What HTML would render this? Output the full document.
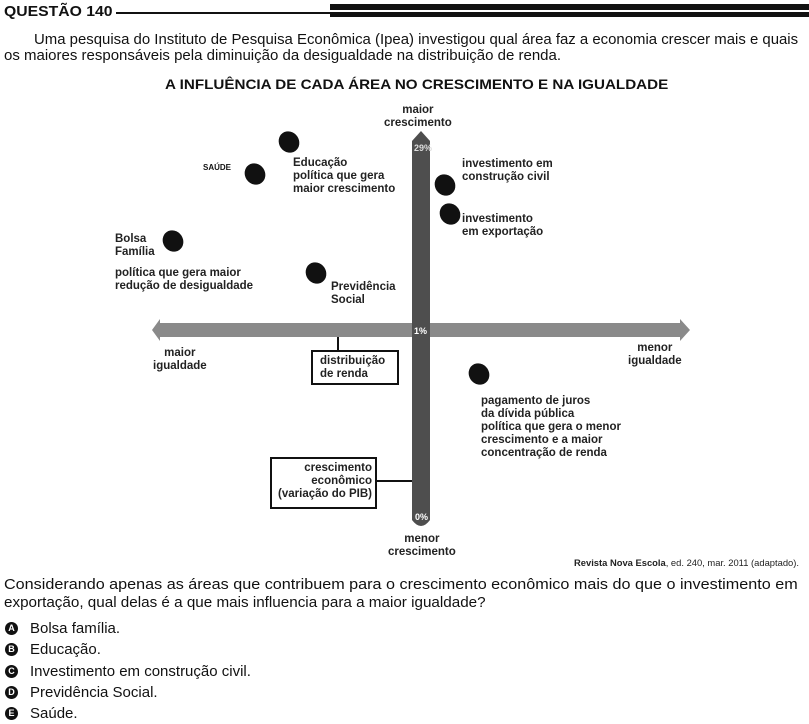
<!DOCTYPE html>
<html><head><meta charset="utf-8"><style>
body{margin:0;width:809px;height:724px;background:#fff;position:relative;overflow:hidden;font-family:"Liberation Sans",sans-serif;color:#111}
.a{position:absolute;white-space:nowrap}
.n{font-size:15px;transform-origin:0 0}
.d{font-size:11.5px;font-weight:bold;line-height:13px;color:#222}
.dot{position:absolute;width:20px;height:22px;background:#111;border-radius:50%;transform:rotate(-35deg)}
.box{position:absolute;border:2px solid #111;background:#fff}
.opt{position:absolute;left:5px;width:13px;height:13px;border-radius:50%;background:#111;color:#fff;font-size:9px;font-weight:bold;text-align:center;line-height:13px}
</style></head><body>
<div class="a" style="left:4px;top:3px;font-size:15px;font-weight:bold;transform:scaleX(1.05);transform-origin:0 0">QUESTÃO 140</div>
<div class="a" style="left:116px;top:12px;width:693px;height:2px;background:#111"></div>
<div class="a" style="left:330px;top:4px;width:479px;height:6px;background:#111"></div>
<div class="a" style="left:330px;top:13px;width:479px;height:4px;background:#111"></div>

<div class="a n" style="left:34px;top:31px;transform:scaleX(0.995)">Uma pesquisa do Instituto de Pesquisa Econômica (Ipea) investigou qual área faz a economia crescer mais e quais</div>
<div class="a n" style="left:4px;top:47px;transform:scaleX(1.0)">os maiores responsáveis pela diminuição da desigualdade na distribuição de renda.</div>
<div class="a" style="left:165px;top:76px;font-size:14px;font-weight:bold;transform:scaleX(1.085);transform-origin:0 0">A INFLUÊNCIA DE CADA ÁREA NO CRESCIMENTO E NA IGUALDADE</div>

<svg class="a" style="left:0;top:0" width="809" height="724">
<polygon points="160,323 680,323 680,319 690,330 680,341 680,337 160,337 160,341 152,330 160,319" fill="#8a8a8a"/>
<path d="M412,141 L421,131 L430,141 L430,520 Q421,532 412,520 Z" fill="#4e4e4e"/>
<line x1="338" y1="337" x2="338" y2="351" stroke="#111" stroke-width="2"/>
<line x1="375" y1="481" x2="412" y2="481" stroke="#111" stroke-width="2"/>
<text x="414" y="151" font-size="9" font-weight="bold" fill="#ddd" font-family="Liberation Sans">29%</text>
<text x="414" y="334" font-size="9" font-weight="bold" fill="#fff" font-family="Liberation Sans">1%</text>
<text x="415" y="520" font-size="9" font-weight="bold" fill="#fff" font-family="Liberation Sans">0%</text>
</svg>

<div class="a d" style="left:384px;top:104px;text-align:center">maior<br>crescimento</div>
<div class="a d" style="left:388px;top:533px;text-align:center">menor<br>crescimento</div>
<div class="a d" style="left:153px;top:347px;text-align:center">maior<br>igualdade</div>
<div class="a d" style="left:628px;top:342px;text-align:center">menor<br>igualdade</div>

<div class="dot" style="left:279px;top:131px"></div>
<div class="dot" style="left:245px;top:163px"></div>
<div class="dot" style="left:163px;top:230px"></div>
<div class="dot" style="left:306px;top:262px"></div>
<div class="dot" style="left:435px;top:174px"></div>
<div class="dot" style="left:440px;top:203px"></div>
<div class="dot" style="left:469px;top:363px"></div>

<div class="a" style="left:203px;top:163px;font-size:8px;font-weight:bold">SAÚDE</div>
<div class="a d" style="left:293px;top:157px">Educação<br>política que gera<br>maior crescimento</div>
<div class="a d" style="left:462px;top:158px">investimento em<br>construção civil</div>
<div class="a d" style="left:462px;top:213px">investimento<br>em exportação</div>
<div class="a d" style="left:115px;top:233px">Bolsa<br>Família</div>
<div class="a d" style="left:115px;top:267px">política que gera maior<br>redução de desigualdade</div>
<div class="a d" style="left:331px;top:281px">Previdência<br>Social</div>
<div class="a d" style="left:481px;top:395px">pagamento de juros<br>da dívida pública<br>política que gera o menor<br>crescimento e a maior<br>concentração de renda</div>

<div class="box" style="left:311px;top:350px;width:84px;height:31px"></div>
<div class="a d" style="left:320px;top:355px">distribuição<br>de renda</div>
<div class="box" style="left:270px;top:457px;width:103px;height:48px"></div>
<div class="a d" style="left:278px;top:462px;text-align:right;width:94px;padding-right:0">crescimento<br>econômico<br>(variação do PIB)</div>

<div class="a" style="left:574px;top:557px;font-size:9.4px;color:#222"><b>Revista Nova Escola</b>, ed. 240, mar. 2011 (adaptado).</div>

<div class="a n" style="left:4px;top:576px;transform:scaleX(1.078)">Considerando apenas as áreas que contribuem para o crescimento econômico mais do que o investimento em</div>
<div class="a n" style="left:4px;top:594px;transform:scaleX(1.015)">exportação, qual delas é a que mais influencia para a maior igualdade?</div>

<div class="opt" style="top:622px">A</div><div class="a n" style="left:30px;top:620px">Bolsa família.</div>
<div class="opt" style="top:643px">B</div><div class="a n" style="left:30px;top:641px">Educação.</div>
<div class="opt" style="top:665px">C</div><div class="a n" style="left:30px;top:663px">Investimento em construção civil.</div>
<div class="opt" style="top:686px">D</div><div class="a n" style="left:30px;top:684px">Previdência Social.</div>
<div class="opt" style="top:707px">E</div><div class="a n" style="left:30px;top:705px">Saúde.</div>
</body></html>
